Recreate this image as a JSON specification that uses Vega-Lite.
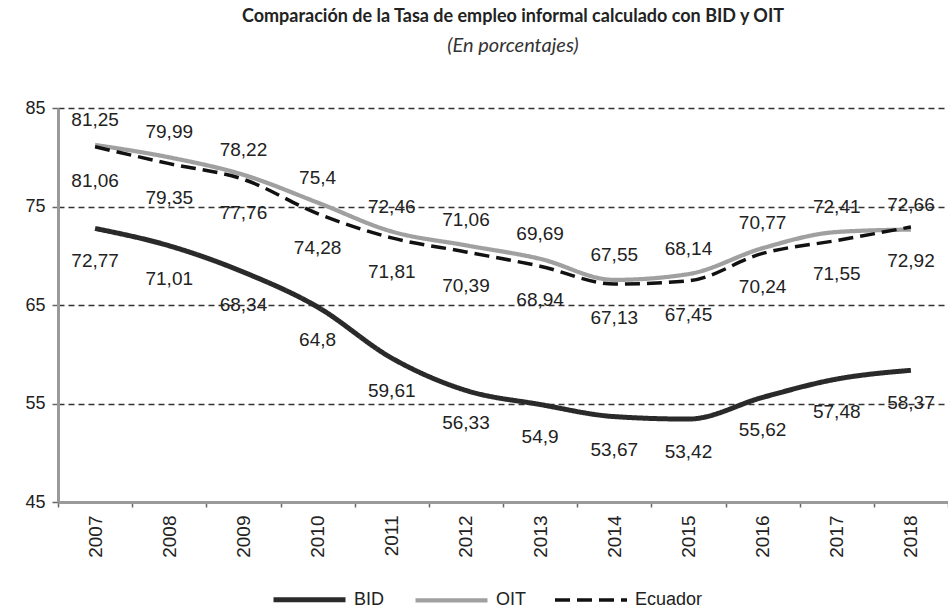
{
  "$schema": "https://vega.github.io/schema/vega-lite/v6.json",
  "autosize": {"type": "none"},
  "padding": {"left": 58, "top": 108, "right": 0, "bottom": 108},
  "width": 890,
  "height": 394,
  "background": "white",
  "config": {
    "locale": {"number": {"decimal": ",", "thousands": ".", "grouping": [3], "currency": ["", ""]}},
    "view": {"stroke": null},
    "font": "Liberation Sans",
    "legend": {
      "orient": "none",
      "legendX": 213,
      "legendY": 453,
      "direction": "horizontal",
      "symbolType": "stroke",
      "symbolSize": 5184,
      "labelFont": "Liberation Sans",
      "labelFontSize": 18,
      "labelColor": "#222",
      "labelOffset": 6,
      "columnPadding": 22,
      "padding": 0,
      "title": null
    }
  },
  "title": {
    "text": "Comparación de la Tasa de empleo informal calculado con BID y OIT",
    "subtitle": "(En porcentajes)",
    "anchor": "middle",
    "frame": "group",
    "dx": 10,
    "font": "Lato",
    "fontSize": 18,
    "fontWeight": "bold",
    "color": "#222",
    "subtitleFont": "Lato",
    "subtitleFontSize": 20,
    "subtitleFontStyle": "italic",
    "subtitleColor": "#333",
    "subtitlePadding": 10,
    "offset": 43
  },
  "data": {"values": [
    {"year": "2007", "serie": "OIT", "value": 81.25},
    {"year": "2008", "serie": "OIT", "value": 79.99},
    {"year": "2009", "serie": "OIT", "value": 78.22},
    {"year": "2010", "serie": "OIT", "value": 75.4},
    {"year": "2011", "serie": "OIT", "value": 72.46},
    {"year": "2012", "serie": "OIT", "value": 71.06},
    {"year": "2013", "serie": "OIT", "value": 69.69},
    {"year": "2014", "serie": "OIT", "value": 67.55},
    {"year": "2015", "serie": "OIT", "value": 68.14},
    {"year": "2016", "serie": "OIT", "value": 70.77},
    {"year": "2017", "serie": "OIT", "value": 72.41},
    {"year": "2018", "serie": "OIT", "value": 72.66},
    {"year": "2007", "serie": "Ecuador", "value": 81.06},
    {"year": "2008", "serie": "Ecuador", "value": 79.35},
    {"year": "2009", "serie": "Ecuador", "value": 77.76},
    {"year": "2010", "serie": "Ecuador", "value": 74.28},
    {"year": "2011", "serie": "Ecuador", "value": 71.81},
    {"year": "2012", "serie": "Ecuador", "value": 70.39},
    {"year": "2013", "serie": "Ecuador", "value": 68.94},
    {"year": "2014", "serie": "Ecuador", "value": 67.13},
    {"year": "2015", "serie": "Ecuador", "value": 67.45},
    {"year": "2016", "serie": "Ecuador", "value": 70.24},
    {"year": "2017", "serie": "Ecuador", "value": 71.55},
    {"year": "2018", "serie": "Ecuador", "value": 72.92},
    {"year": "2007", "serie": "BID", "value": 72.77},
    {"year": "2008", "serie": "BID", "value": 71.01},
    {"year": "2009", "serie": "BID", "value": 68.34},
    {"year": "2010", "serie": "BID", "value": 64.8},
    {"year": "2011", "serie": "BID", "value": 59.61},
    {"year": "2012", "serie": "BID", "value": 56.33},
    {"year": "2013", "serie": "BID", "value": 54.9},
    {"year": "2014", "serie": "BID", "value": 53.67},
    {"year": "2015", "serie": "BID", "value": 53.42},
    {"year": "2016", "serie": "BID", "value": 55.62},
    {"year": "2017", "serie": "BID", "value": 57.48},
    {"year": "2018", "serie": "BID", "value": 58.37}
  ]},
  "encoding": {
    "x": {
      "field": "year", "type": "ordinal",
      "scale": {"type": "band", "paddingInner": 0, "paddingOuter": 0},
      "axis": {
        "title": null,
        "labelAngle": -90,
        "labelFont": "Liberation Sans",
        "labelFontSize": 19,
        "labelColor": "#222",
        "labelPadding": 8,
        "tickBand": "extent",
        "tickSize": 5,
        "tickColor": "#666",
        "tickWidth": 1.5,
        "domainColor": "#9a9a9a",
        "domainWidth": 3,
        "grid": false
      }
    },
    "y": {
      "field": "value", "type": "quantitative",
      "scale": {"domain": [45, 85], "nice": false, "zero": false},
      "axis": {
        "title": null,
        "values": [45, 55, 65, 75, 85],
        "labelFont": "Liberation Sans",
        "labelFontSize": 18,
        "labelColor": "#222",
        "labelPadding": 7,
        "tickSize": 6,
        "tickColor": "#666",
        "tickWidth": 1.5,
        "domainColor": "#9a9a9a",
        "domainWidth": 3,
        "grid": true,
        "gridColor": "#333",
        "gridWidth": 1.3,
        "gridDash": [6, 4]
      }
    }
  },
  "layer": [
    {
      "transform": [{"filter": "datum.serie === 'OIT'"}],
      "mark": {"type": "line", "interpolate": "monotone"},
      "encoding": {
        "color": {"field": "serie", "type": "nominal", "scale": {"domain": ["BID", "OIT", "Ecuador"], "range": ["#2a2a2a", "#a0a0a0", "#111111"]}, "title": null},
        "strokeDash": {"field": "serie", "type": "nominal", "scale": {"domain": ["BID", "OIT", "Ecuador"], "range": [[1, 0], [1, 0], [15, 7]]}, "title": null},
        "strokeWidth": {"field": "serie", "type": "nominal", "scale": {"domain": ["BID", "OIT", "Ecuador"], "range": [5, 3.5, 5.5]}, "title": null}
      }
    },
    {
      "transform": [{"filter": "datum.serie === 'Ecuador'"}],
      "mark": {"type": "line", "interpolate": "monotone"},
      "encoding": {
        "color": {"field": "serie", "type": "nominal", "title": null},
        "strokeDash": {"field": "serie", "type": "nominal", "title": null},
        "strokeWidth": {"field": "serie", "type": "nominal", "title": null}
      }
    },
    {
      "transform": [{"filter": "datum.serie === 'BID'"}],
      "mark": {"type": "line", "interpolate": "monotone"},
      "encoding": {
        "color": {"field": "serie", "type": "nominal", "title": null},
        "strokeDash": {"field": "serie", "type": "nominal", "title": null},
        "strokeWidth": {"field": "serie", "type": "nominal", "title": null}
      }
    },
    {
      "transform": [{"filter": "datum.serie === 'OIT'"}],
      "mark": {"type": "text", "dy": -25, "fontSize": 19, "font": "Liberation Sans", "color": "#222", "baseline": "middle"},
      "encoding": {"text": {"field": "value", "type": "quantitative", "format": ".4~"}}
    },
    {
      "transform": [{"filter": "datum.serie === 'Ecuador'"}],
      "mark": {"type": "text", "dy": 34, "fontSize": 19, "font": "Liberation Sans", "color": "#222", "baseline": "middle"},
      "encoding": {"text": {"field": "value", "type": "quantitative", "format": ".4~"}}
    },
    {
      "transform": [{"filter": "datum.serie === 'BID'"}],
      "mark": {"type": "text", "dy": 33, "fontSize": 19, "font": "Liberation Sans", "color": "#222", "baseline": "middle"},
      "encoding": {"text": {"field": "value", "type": "quantitative", "format": ".4~"}}
    }
  ]
}
